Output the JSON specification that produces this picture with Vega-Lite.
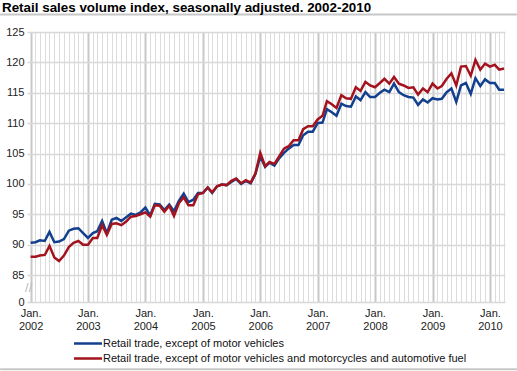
{
  "$schema": "https://vega.github.io/schema/vega-lite/v6.json",
  "width": 478,
  "height": 270,
  "autosize": "none",
  "padding": {"left": 27, "top": 32, "right": 12, "bottom": 69},
  "background": "white",
  "title": {"text": "Retail sales volume index, seasonally adjusted. 2002-2010", "anchor": "start", "frame": "group", "dx": -25, "offset": -12, "baseline": "alphabetic", "fontSize": 13.4, "font": "Liberation Sans", "fontWeight": "bold", "color": "#000"},
  "config": {"view": {"stroke": null}, "font": "Liberation Sans", "axis": {"labelOverlap": false, "labelSeparation": 0},
    "axisY": {"title": null, "values": [0, 85, 90, 95, 100, 105, 110, 115, 120, 125], "labelOverlap": false, "grid": true, "gridColor": "#d8d8d8", "gridWidth": 1.5, "domain": false, "ticks": false, "labelFontSize": 11, "labelColor": "#222", "labelPadding": 3, "labelFont": "Liberation Sans"}},
  "datasets": {
    "main": [
      {"d": "2002-01-01", "m": 90.3, "f": 88.0},
      {"d": "2002-02-01", "m": 90.4, "f": 88.0},
      {"d": "2002-03-01", "m": 90.7, "f": 88.2},
      {"d": "2002-04-01", "m": 90.6, "f": 88.3},
      {"d": "2002-05-01", "m": 92.1, "f": 89.8},
      {"d": "2002-06-01", "m": 90.4, "f": 87.9},
      {"d": "2002-07-01", "m": 90.5, "f": 87.3},
      {"d": "2002-08-01", "m": 90.9, "f": 88.2},
      {"d": "2002-09-01", "m": 92.3, "f": 89.6},
      {"d": "2002-10-01", "m": 92.6, "f": 90.3},
      {"d": "2002-11-01", "m": 92.7, "f": 90.6},
      {"d": "2002-12-01", "m": 91.9, "f": 90.0},
      {"d": "2003-01-01", "m": 91.1, "f": 90.0},
      {"d": "2003-02-01", "m": 91.9, "f": 91.1},
      {"d": "2003-03-01", "m": 92.2, "f": 91.1},
      {"d": "2003-04-01", "m": 93.9, "f": 93.2},
      {"d": "2003-05-01", "m": 91.9, "f": 91.6},
      {"d": "2003-06-01", "m": 94.1, "f": 93.4},
      {"d": "2003-07-01", "m": 94.4, "f": 93.5},
      {"d": "2003-08-01", "m": 93.9, "f": 93.2},
      {"d": "2003-09-01", "m": 94.5, "f": 93.8},
      {"d": "2003-10-01", "m": 95.1, "f": 94.6},
      {"d": "2003-11-01", "m": 94.9, "f": 94.7},
      {"d": "2003-12-01", "m": 95.3, "f": 95.0},
      {"d": "2004-01-01", "m": 96.1, "f": 95.3},
      {"d": "2004-02-01", "m": 94.8, "f": 94.6},
      {"d": "2004-03-01", "m": 96.7, "f": 96.5},
      {"d": "2004-04-01", "m": 96.6, "f": 96.4},
      {"d": "2004-05-01", "m": 95.7, "f": 95.4},
      {"d": "2004-06-01", "m": 96.6, "f": 96.4},
      {"d": "2004-07-01", "m": 95.5, "f": 94.7},
      {"d": "2004-08-01", "m": 97.2, "f": 96.8},
      {"d": "2004-09-01", "m": 98.4, "f": 97.8},
      {"d": "2004-10-01", "m": 97.0, "f": 96.5},
      {"d": "2004-11-01", "m": 97.4, "f": 96.5},
      {"d": "2004-12-01", "m": 98.5, "f": 98.3},
      {"d": "2005-01-01", "m": 98.5, "f": 98.5},
      {"d": "2005-02-01", "m": 99.4, "f": 99.4},
      {"d": "2005-03-01", "m": 98.5, "f": 98.6},
      {"d": "2005-04-01", "m": 99.6, "f": 99.6},
      {"d": "2005-05-01", "m": 99.9, "f": 99.9},
      {"d": "2005-06-01", "m": 99.8, "f": 99.8},
      {"d": "2005-07-01", "m": 100.3, "f": 100.5},
      {"d": "2005-08-01", "m": 100.8, "f": 100.9},
      {"d": "2005-09-01", "m": 100.0, "f": 100.1},
      {"d": "2005-10-01", "m": 100.5, "f": 100.6},
      {"d": "2005-11-01", "m": 100.1, "f": 100.2},
      {"d": "2005-12-01", "m": 101.6, "f": 101.7},
      {"d": "2006-01-01", "m": 104.5, "f": 105.1},
      {"d": "2006-02-01", "m": 102.8, "f": 102.9},
      {"d": "2006-03-01", "m": 103.5, "f": 103.6},
      {"d": "2006-04-01", "m": 103.0, "f": 103.3},
      {"d": "2006-05-01", "m": 104.2, "f": 104.5},
      {"d": "2006-06-01", "m": 105.1, "f": 105.8},
      {"d": "2006-07-01", "m": 105.8, "f": 106.2},
      {"d": "2006-08-01", "m": 106.4, "f": 107.2},
      {"d": "2006-09-01", "m": 106.4, "f": 107.2},
      {"d": "2006-10-01", "m": 108.0, "f": 109.0},
      {"d": "2006-11-01", "m": 108.6, "f": 109.5},
      {"d": "2006-12-01", "m": 108.6, "f": 109.5},
      {"d": "2007-01-01", "m": 110.0, "f": 110.6},
      {"d": "2007-02-01", "m": 110.1, "f": 111.2},
      {"d": "2007-03-01", "m": 112.3, "f": 113.6},
      {"d": "2007-04-01", "m": 111.8, "f": 113.1},
      {"d": "2007-05-01", "m": 111.2, "f": 112.5},
      {"d": "2007-06-01", "m": 113.2, "f": 114.6},
      {"d": "2007-07-01", "m": 112.8, "f": 114.1},
      {"d": "2007-08-01", "m": 112.7, "f": 114.0},
      {"d": "2007-09-01", "m": 114.4, "f": 115.9},
      {"d": "2007-10-01", "m": 113.8, "f": 115.3},
      {"d": "2007-11-01", "m": 115.1, "f": 116.8},
      {"d": "2007-12-01", "m": 114.3, "f": 116.2},
      {"d": "2008-01-01", "m": 114.3, "f": 115.9},
      {"d": "2008-02-01", "m": 115.0, "f": 116.6},
      {"d": "2008-03-01", "m": 115.5, "f": 117.3},
      {"d": "2008-04-01", "m": 115.1, "f": 116.5},
      {"d": "2008-05-01", "m": 116.5, "f": 117.6},
      {"d": "2008-06-01", "m": 115.1, "f": 116.5},
      {"d": "2008-07-01", "m": 114.6, "f": 116.2},
      {"d": "2008-08-01", "m": 114.3, "f": 115.8},
      {"d": "2008-09-01", "m": 114.2, "f": 115.9},
      {"d": "2008-10-01", "m": 113.0, "f": 114.7},
      {"d": "2008-11-01", "m": 113.9, "f": 115.7},
      {"d": "2008-12-01", "m": 113.4, "f": 115.1},
      {"d": "2009-01-01", "m": 114.1, "f": 116.5},
      {"d": "2009-02-01", "m": 113.9, "f": 115.7},
      {"d": "2009-03-01", "m": 114.0, "f": 116.1},
      {"d": "2009-04-01", "m": 115.1, "f": 117.3},
      {"d": "2009-05-01", "m": 115.7, "f": 118.2},
      {"d": "2009-06-01", "m": 113.5, "f": 116.2},
      {"d": "2009-07-01", "m": 116.2, "f": 119.3},
      {"d": "2009-08-01", "m": 116.6, "f": 119.4},
      {"d": "2009-09-01", "m": 114.8, "f": 117.8},
      {"d": "2009-10-01", "m": 117.4, "f": 120.4},
      {"d": "2009-11-01", "m": 116.1, "f": 118.8},
      {"d": "2009-12-01", "m": 117.2, "f": 119.8},
      {"d": "2010-01-01", "m": 116.6, "f": 119.3},
      {"d": "2010-02-01", "m": 116.6, "f": 119.6},
      {"d": "2010-03-01", "m": 115.5, "f": 118.8},
      {"d": "2010-04-01", "m": 115.5, "f": 119.0}
    ],
    "deco": [{"k": 1}]
  },
  "layer": [
    {
      "data": {"name": "main"},
      "mark": {"type": "point", "opacity": 0},
      "encoding": {
        "x": {"field": "d", "type": "temporal",
          "scale": {"type": "utc", "domain": ["2001-12-09", "2010-04-07"], "nice": false},
          "axis": {"orient": "bottom", "title": null, "tickCount": {"interval": "month", "step": 1}, "grid": true, "gridColor": "#dcdcdc", "gridWidth": 1, "labels": false, "ticks": false, "domain": false}},
        "y": {"field": "m", "type": "quantitative",
          "scale": {"domain": [0, 85, 125], "range": [270, 243, 0], "nice": false, "zero": false},
          "axis": {"values": [0, 85, 90, 95, 100, 105, 110, 115, 120, 125], "labelOverlap": false}}
      }
    },
    {
      "data": {"name": "main"},
      "transform": [{"fold": ["m", "f"], "as": ["series", "value"]}],
      "mark": {"type": "line", "strokeWidth": 2.5},
      "encoding": {
        "x": {"field": "d", "type": "temporal",
          "axis": {"orient": "bottom", "title": null, "tickCount": {"interval": "year", "step": 1}, "grid": true, "gridColor": "#c8c8c8", "gridWidth": 2, "ticks": false, "domain": false, "labelExpr": "['Jan.', utcFormat(datum.value, '%Y')]", "labelFontSize": 11, "labelColor": "#222", "labelPadding": 5, "labelLineHeight": 13, "labelFlush": false, "labelOverlap": false, "labelFont": "Liberation Sans"}},
        "y": {"field": "value", "type": "quantitative",
          "axis": {"values": [0, 85, 90, 95, 100, 105, 110, 115, 120, 125], "labelOverlap": false}},
        "color": {"field": "series", "type": "nominal",
          "scale": {"domain": ["m", "f"], "range": ["#123f8e", "#a3131e"]},
          "legend": {"title": null, "orient": "none", "legendX": 55.5, "legendY": 306, "symbolType": "M-4,0H4", "symbolStrokeWidth": 2.5, "symbolSize": 49, "symbolFillColor": "transparent", "labelFontSize": 11, "labelColor": "#111", "labelFont": "Liberation Sans", "labelOffset": 9.5, "rowPadding": 3, "labelLimit": 500, "padding": 0,
            "labelExpr": "datum.value == 'm' ? 'Retail trade, except of motor vehicles' : 'Retail trade, except of motor vehicles and motorcycles and automotive fuel'"}}
      }
    },
    {
      "data": {"name": "deco"},
      "mark": {"type": "text", "text": "//", "fontSize": 13, "color": "#bbbbbb", "font": "Liberation Sans"},
      "encoding": {
        "x": {"datum": {"year": 2001, "month": 12, "date": 20, "utc": true}, "type": "temporal", "axis": null},
        "y": {"datum": 45, "type": "quantitative", "axis": {"values": [0, 85, 90, 95, 100, 105, 110, 115, 120, 125], "labelOverlap": false}}
      }
    },
    {
      "data": {"name": "deco"},
      "mark": {"type": "rule", "color": "#c8c8c8", "strokeWidth": 2},
      "encoding": {
        "x": {"datum": {"year": 2001, "month": 6, "date": 21, "utc": true}, "type": "temporal", "axis": null},
        "x2": {"datum": {"year": 2010, "month": 6, "date": 22, "utc": true}},
        "y": {"datum": 127.9, "type": "quantitative", "axis": {"values": [0, 85, 90, 95, 100, 105, 110, 115, 120, 125], "labelOverlap": false}}
      }
    },
    {
      "data": {"name": "deco"},
      "mark": {"type": "rule", "color": "#c8c8c8", "strokeWidth": 2},
      "encoding": {
        "x": {"datum": {"year": 2001, "month": 6, "date": 21, "utc": true}, "type": "temporal", "axis": null},
        "x2": {"datum": {"year": 2010, "month": 6, "date": 22, "utc": true}},
        "y": {"datum": -212, "type": "quantitative", "axis": {"values": [0, 85, 90, 95, 100, 105, 110, 115, 120, 125], "labelOverlap": false}}
      }
    }
  ],
  "resolve": {"axis": {"x": "independent"}}
}
